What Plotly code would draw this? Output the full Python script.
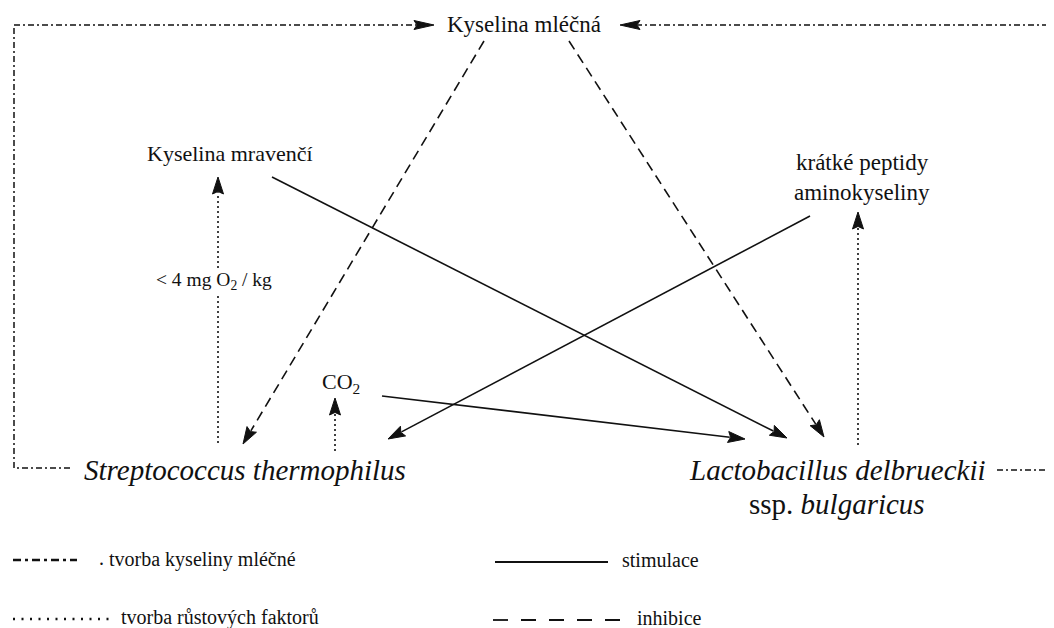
import math
import plotly.graph_objects as go

W, H = 1054, 628
PAD = 8  # default page body margin of the html page

# ---------------- data (labels) ----------------
top_label = "Kyselina mléčná"
formic_label = "Kyselina mravenčí"
peptide_labels = ["krátké peptidy", "aminokyseliny"]
co2_label = "CO<sub>2</sub>"
oxygen_label = "&lt; 4 mg O<sub>2</sub> / kg"
strep_label = "<i>Streptococcus thermophilus</i>"
lacto_labels = ["<i>Lactobacillus delbrueckii</i>", "ssp. <i>bulgaricus</i>"]
legend_labels = ["tvorba kyseliny mléčné", "tvorba růstových faktorů", "stimulace", "inhibice"]

# ---------------- layout positions (pixels) ----------------
# edges: (tail_x, tail_y, tip_x, tip_y)
stimulation_edges = [
    (272, 177, 787, 438),   # Kyselina mravenčí -> Lactobacillus
    (810, 216, 388, 439),   # peptidy -> Streptococcus
    (382, 396, 745, 439),   # CO2 -> Lactobacillus
]
inhibition_edges = [
    (484, 41, 243, 444),    # Kyselina mléčná -> Streptococcus
    (569, 41, 824, 437),    # Kyselina mléčná -> Lactobacillus
]
growth_edges = [
    (218, 443, 218, 177),   # Streptococcus -> Kyselina mravenčí
    (335, 451, 335, 398),   # Streptococcus -> CO2
    (858, 445, 858, 212),   # Lactobacillus -> peptidy
]
lactic_paths = [
    ([70, 14, 14, 434], [468, 468, 25, 25]),
    ([997, 1062, 1062, 620], [470, 470, 25, 25]),
]

BLACK = "#111111"
SERIF = "Liberation Serif"

fig = go.Figure()


def arrowhead(x0, y0, x1, y1, L=17, w=5.5, notch=0.15):
    dx, dy = x1 - x0, y1 - y0
    n = math.hypot(dx, dy)
    ux, uy = dx / n, dy / n
    px, py = -uy, ux
    bx, by = x1 - ux * L, y1 - uy * L
    nx_, ny_ = x1 - ux * L * (1 - notch), y1 - uy * L * (1 - notch)
    xs = [x1, bx + px * w, nx_, bx - px * w, x1]
    ys = [y1, by + py * w, ny_, by - py * w, y1]
    fig.add_trace(go.Scatter(x=xs, y=ys, mode="lines", fill="toself",
                             fillcolor=BLACK, line=dict(color=BLACK, width=1),
                             hoverinfo="skip", showlegend=False))
    return bx + ux * L * 0.1, by + uy * L * 0.1


def edge(x0, y0, x1, y1, dash, width=1.6, L=17, w=5.5):
    ex, ey = arrowhead(x0, y0, x1, y1, L, w)
    fig.add_trace(go.Scatter(x=[x0, ex], y=[y0, ey], mode="lines",
                             line=dict(color=BLACK, width=width, dash=dash),
                             hoverinfo="skip", showlegend=False))


LACTIC_DASH = "6px,3px,2px,3px"

for e in stimulation_edges:
    edge(*e, dash="solid", width=1.6)
for e in inhibition_edges:
    edge(*e, dash="10px,6px", width=1.6)
for e in growth_edges:
    edge(*e, dash="2px,3px", width=1.6)

for xs, ys in lactic_paths:
    edge(xs[-2], ys[-2], xs[-1], ys[-1], dash=LACTIC_DASH, width=1.5, L=20, w=4.5)
    fig.add_trace(go.Scatter(x=xs[:-1], y=ys[:-1], mode="lines",
                             line=dict(color=BLACK, width=1.5, dash=LACTIC_DASH),
                             hoverinfo="skip", showlegend=False))

# legend lines
legend_lines = [
    ([13, 77], [560, 560], "8px,4px,3px,4px", 2.4),
    ([13, 113], [619, 619], "2px,6.5px", 2.4),
    ([495, 608], [562, 562], "solid", 1.8),
    ([493, 625], [620, 620], "15px,13px", 1.8),
]
for xs, ys, dash, wd in legend_lines:
    fig.add_trace(go.Scatter(x=xs, y=ys, mode="lines",
                             line=dict(color=BLACK, width=wd, dash=dash),
                             hoverinfo="skip", showlegend=False))


def text(t, x, y, size, anchor="center", bg=None):
    fig.add_annotation(x=x, y=y, text=t, showarrow=False, xanchor=anchor,
                       yanchor="middle", font=dict(family=SERIF, size=size, color=BLACK),
                       bgcolor=bg, borderpad=0)


text(top_label, 524, 24, 23, bg="white")
text(formic_label, 230, 153, 22)
text(peptide_labels[0], 862, 162, 23)
text(peptide_labels[1], 862, 192, 23)
text(co2_label, 341, 383, 22)
text(oxygen_label, 214, 281, 19.5, bg="white")
text(strep_label, 245, 470, 29)
text(lacto_labels[0], 837, 470, 29)
text(lacto_labels[1], 837, 504, 29)

text(".", 98, 558, 20, anchor="left")
text(legend_labels[0], 108, 559, 20, anchor="left")
text(legend_labels[1], 120, 617, 20, anchor="left")
text(legend_labels[2], 621, 560, 20, anchor="left")
text(legend_labels[3], 636, 618, 20, anchor="left")

fig.update_layout(
    width=W - PAD, height=H - PAD, margin=dict(l=0, r=0, t=0, b=0),
    paper_bgcolor="white", plot_bgcolor="white",
    xaxis=dict(range=[PAD, W], visible=False, fixedrange=True),
    yaxis=dict(range=[H, PAD], visible=False, fixedrange=True),
    showlegend=False,
)
fig.write_html("out.html")
